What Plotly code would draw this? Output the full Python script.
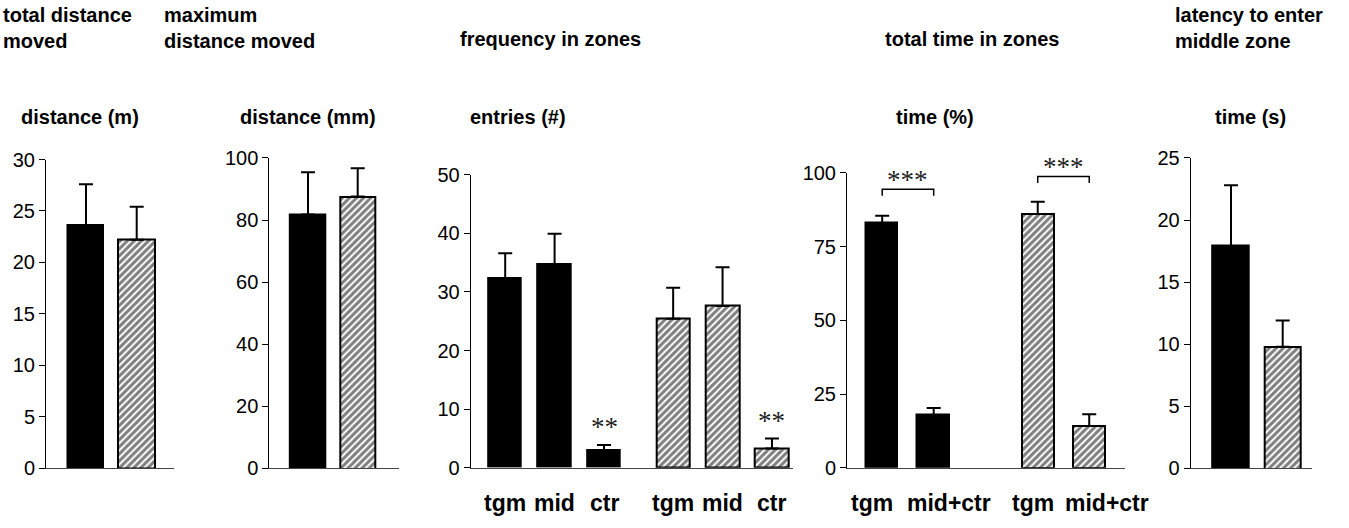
import plotly.graph_objects as go

# ---- data -----------------------------------------------------------------
# panel 1: total distance moved (m)
dist_mean = [23.6, 22.2]
dist_sem = [4.0, 3.2]
# panel 2: maximum distance moved (mm)
maxdist_mean = [81.8, 87.6]
maxdist_sem = [13.6, 9.1]
# panel 3: frequency in zones (entries)
freq_cats = ["tgm", "mid", "ctr"]
freq_ctrl_mean = [32.2, 34.7, 2.9]
freq_ctrl_sem = [4.4, 5.2, 1.0]
freq_trt_mean = [25.4, 27.6, 3.3]
freq_trt_sem = [5.3, 6.6, 1.7]
# panel 4: total time in zones (%)
time_cats = ["tgm", "mid+ctr"]
time_ctrl_mean = [82.9, 17.8]
time_ctrl_sem = [2.6, 2.5]
time_trt_mean = [86.1, 14.2]
time_trt_sem = [4.1, 4.0]
# panel 5: latency to enter middle zone (s)
lat_mean = [17.9, 9.8]
lat_sem = [4.9, 2.1]

W, H = 1349, 528
FONT = "Liberation Sans"


def fx(px):
    return px / W


def fy(py):
    return 1 - py / H


# pixel layout of each panel: axis left, axis right, top of y range, zero line
panels = [
    dict(x0=46, x1=174, top=155.0, bottom=477.0, first=86.0, step=50.7, ymax=30, dtick=5),
    dict(x0=269.3, x1=399.3, top=153.3, bottom=477.3, first=308.0, step=49.7, ymax=100, dtick=20),
    dict(x0=470.7, x1=793.3, top=170.7, bottom=476.7, first=505.2, step=49.4, ymax=50, dtick=10),
    dict(x0=847, x1=1125, top=169.0, bottom=476.7, first=882.2, step=51.5, ymax=100, dtick=25),
    dict(x0=1190.7, x1=1311.7, top=153.3, bottom=477.3, first=1231.0, step=51.7, ymax=25, dtick=5),
]

fig = go.Figure()

solid = dict(color="black", line=dict(color="black", width=1.5))
hatched = dict(
    color="white",
    line=dict(color="black", width=2),
    pattern=dict(shape="/", fgcolor="black", bgcolor="white", size=5, solidity=0.6),
)


def err(sem):
    return dict(type="data", array=sem, arrayminus=[0] * len(sem), symmetric=False,
                color="black", thickness=2, width=7)


def add_bars(idx, xs, ys, sem, marker, width):
    ax = "" if idx == 1 else str(idx)
    fig.add_trace(go.Bar(
        x=xs, y=ys, width=width, marker=marker, error_y=err(sem),
        xaxis="x" + ax, yaxis="y" + ax, showlegend=False,
    ))


# panel 1
add_bars(1, [0], dist_mean[:1], dist_sem[:1], solid, 0.72)
add_bars(1, [1], dist_mean[1:], dist_sem[1:], hatched, 0.72)
# panel 2
add_bars(2, [0], maxdist_mean[:1], maxdist_sem[:1], solid, 0.72)
add_bars(2, [1], maxdist_mean[1:], maxdist_sem[1:], hatched, 0.72)
# panel 3
freq_x_ctrl = [0, 1, 2]
freq_x_trt = [3.4, 4.4, 5.4]
add_bars(3, freq_x_ctrl, freq_ctrl_mean, freq_ctrl_sem, solid, 0.68)
add_bars(3, freq_x_trt, freq_trt_mean, freq_trt_sem, hatched, 0.68)
# panel 4
time_x_ctrl = [0, 1]
time_x_trt = [3.02, 4.02]
add_bars(4, time_x_ctrl, time_ctrl_mean, time_ctrl_sem, solid, 0.63)
add_bars(4, time_x_trt, time_trt_mean, time_trt_sem, hatched, 0.63)
# panel 5
add_bars(5, [0], lat_mean[:1], lat_sem[:1], solid, 0.71)
add_bars(5, [1], lat_mean[1:], lat_sem[1:], hatched, 0.71)

layout = dict(
    width=W, height=H, margin=dict(l=0, r=0, t=0, b=0),
    plot_bgcolor="white", paper_bgcolor="white",
    bargap=0, barmode="overlay",
    font=dict(family=FONT, color="black"),
)

for i, p in enumerate(panels, start=1):
    ax = "" if i == 1 else str(i)
    start = -(p["first"] - p["x0"]) / p["step"]
    end = start + (p["x1"] - p["x0"]) / p["step"]
    layout["xaxis" + ax] = dict(
        domain=[fx(p["x0"]), fx(p["x1"])], range=[start, end],
        anchor="y" + ax, showline=True, linecolor="#444", linewidth=1,
        showticklabels=False, ticks="", showgrid=False, zeroline=False,
        fixedrange=True,
    )
    layout["yaxis" + ax] = dict(
        domain=[fy(p["bottom"]), fy(p["top"])], range=[0, p["ymax"]],
        anchor="x" + ax, showline=True, linecolor="black", linewidth=1,
        ticks="outside", ticklen=6, tickwidth=1, tickcolor="black",
        dtick=p["dtick"], tick0=0, tickfont=dict(size=20, family=FONT),
        showgrid=False, zeroline=False, fixedrange=True,
    )

annotations = []


def title(text, x, y, size=20):
    annotations.append(dict(
        text=text, x=fx(x), y=fy(y), xref="paper", yref="paper",
        xanchor="left", yanchor="top", showarrow=False, align="left",
        font=dict(size=size, family=FONT, color="black"),
    ))


def centred(text, x, y, size=20):
    annotations.append(dict(
        text=text, x=fx(x), y=fy(y), xref="paper", yref="paper",
        xanchor="center", yanchor="middle", showarrow=False,
        font=dict(size=size, family=FONT, color="black"),
    ))


# panel headings
title("<b>total distance<br>moved</b>", 1, -9)
title("<b>maximum<br>distance moved</b>", 162, -9)
centred("<b>frequency in zones</b>", 550, 29)
centred("<b>total time in zones</b>", 972, 29)
title("<b>latency to enter<br>middle zone</b>", 1173, -9)

# y-axis unit labels
centred("<b>distance (m)</b>", 80, 111)
centred("<b>distance (mm)</b>", 308, 111)
centred("<b>entries (#)</b>", 518, 111)
centred("<b>time (%)</b>", 935, 111)
centred("<b>time (s)</b>", 1250, 111)

# category labels under the zone panels
cat_font = dict(size=23, family=FONT, color="black")
for xs, cats in ((freq_x_ctrl, freq_cats), (freq_x_trt, freq_cats)):
    for xv, c in zip(xs, cats):
        annotations.append(dict(
            text="<b>%s</b>" % c, x=xv, y=fy(513), xref="x3", yref="paper",
            xanchor="center", yanchor="middle", showarrow=False, font=cat_font,
        ))
shifts = [-10, 15, -5, 18]
for xv, c, s in zip(time_x_ctrl + time_x_trt, time_cats + time_cats, shifts):
    annotations.append(dict(
        text="<b>%s</b>" % c, x=xv, y=fy(513), xref="x4", yref="paper",
        xanchor="center", yanchor="middle", showarrow=False, xshift=s, font=cat_font,
    ))

# significance marks
star_font = dict(size=27, family="Liberation Serif", color="#222")
annotations.append(dict(text="**", x=freq_x_ctrl[2], y=7.0, xref="x3", yref="y3",
                        showarrow=False, yanchor="middle", font=star_font))
annotations.append(dict(text="**", x=freq_x_trt[2], y=8.0, xref="x3", yref="y3",
                        showarrow=False, yanchor="middle", font=star_font))

# comparison brackets in the time panel, with their stars
shapes = []
for (xa, xb), ytop in (((time_x_ctrl[0], time_x_ctrl[1]), 94.5),
                       ((time_x_trt[0], time_x_trt[1]), 98.8)):
    shapes.append(dict(
        type="path", xref="x4", yref="y4",
        path="M %f,%f L %f,%f L %f,%f L %f,%f" % (xa, ytop - 2.2, xa, ytop, xb, ytop, xb, ytop - 2.2),
        line=dict(color="black", width=1.5),
    ))
    annotations.append(dict(text="***", x=(xa + xb) / 2, y=ytop, yshift=9,
                            xref="x4", yref="y4", showarrow=False, yanchor="middle",
                            font=star_font))

layout["annotations"] = annotations
layout["shapes"] = shapes

fig.update_layout(**layout)
fig.write_html("out.html")
